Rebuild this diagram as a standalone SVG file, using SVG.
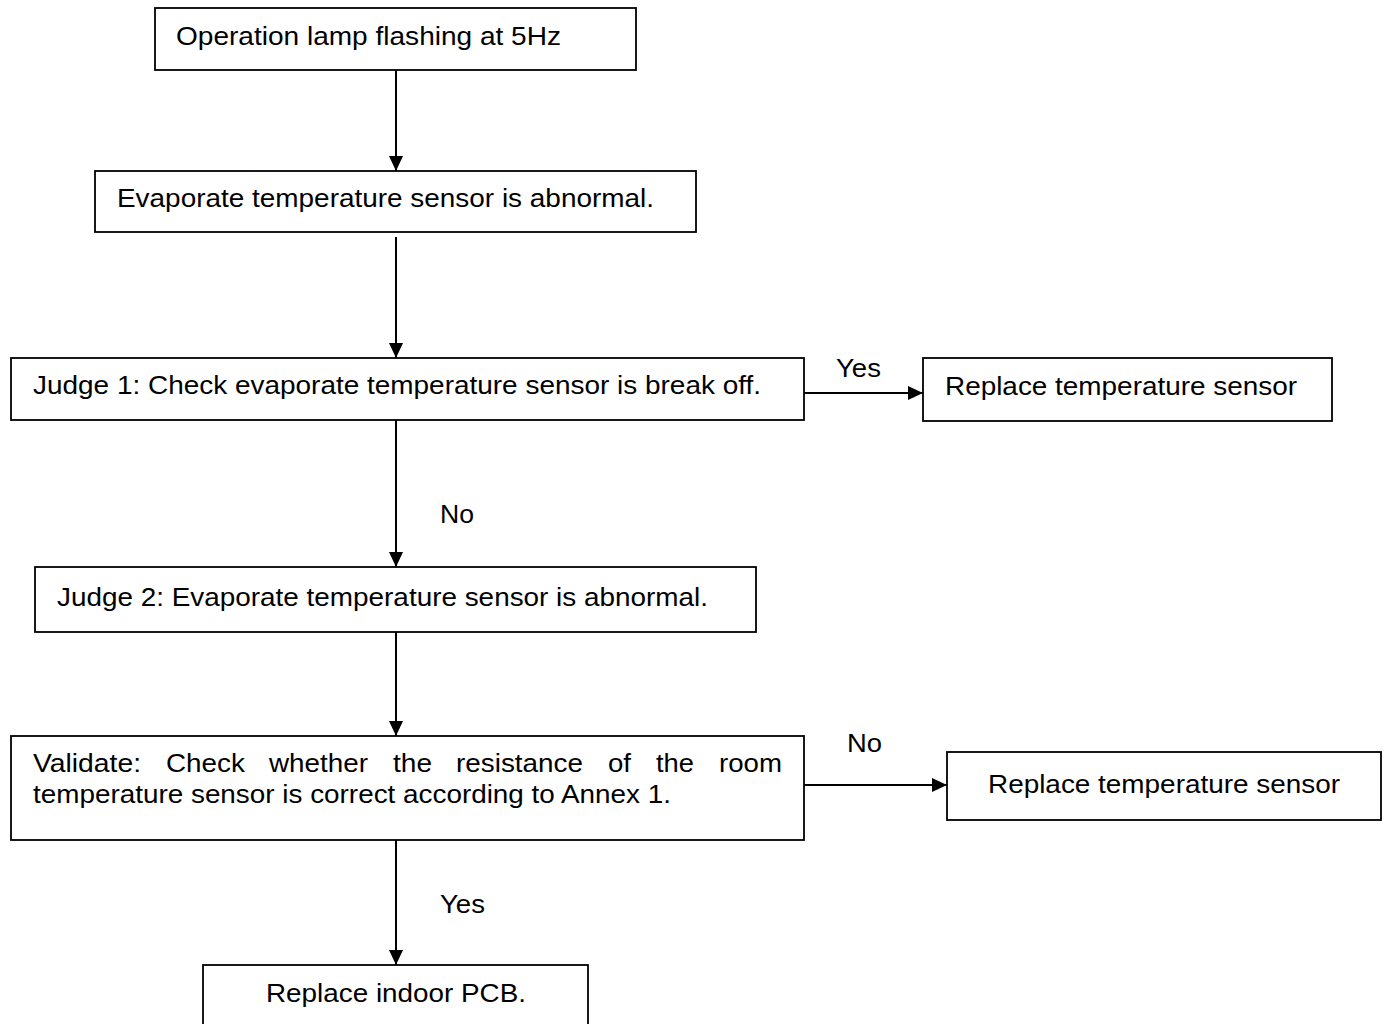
<svg xmlns="http://www.w3.org/2000/svg" width="1387" height="1024" viewBox="0 0 1387 1024">
<style>
  .box { fill: #ffffff; stroke: #000000; stroke-width: 1.8; }
  .t { font-family: "Liberation Sans", Arial, sans-serif; font-size: 25px; fill: #000000; }
  .edge { stroke: #000000; stroke-width: 2; fill: none; marker-end: url(#arrow); }
</style>
<defs>
  <marker id="arrow" markerUnits="userSpaceOnUse" markerWidth="15" markerHeight="14" refX="15" refY="7" orient="auto">
    <path d="M0,0 L15,7 L0,14 Z" fill="#000000"/>
  </marker>
</defs>
<rect width="1387" height="1024" fill="#ffffff"/>

<g id="connectors">
  <line class="edge" x1="396" y1="71" x2="396" y2="171"/>
  <line class="edge" x1="396" y1="237" x2="396" y2="358"/>
  <line class="edge" x1="396" y1="420" x2="396" y2="567"/>
  <line class="edge" x1="396" y1="632" x2="396" y2="736"/>
  <line class="edge" x1="396" y1="840" x2="396" y2="965"/>
  <line class="edge" x1="804" y1="393" x2="923" y2="393"/>
  <line class="edge" x1="804" y1="785" x2="947" y2="785"/>
  <text class="t" x="836" y="377" textLength="45" lengthAdjust="spacingAndGlyphs">Yes</text>
  <text class="t" x="440" y="523" textLength="34" lengthAdjust="spacingAndGlyphs">No</text>
  <text class="t" x="847" y="752" textLength="35" lengthAdjust="spacingAndGlyphs">No</text>
  <text class="t" x="440" y="913" textLength="45" lengthAdjust="spacingAndGlyphs">Yes</text>
</g>

<g id="n1">
  <rect class="box" x="155" y="8" width="481" height="62"/>
  <text class="t" x="176" y="45" textLength="385" lengthAdjust="spacingAndGlyphs">Operation lamp flashing at 5Hz</text>
</g>

<g id="n2">
  <rect class="box" x="95" y="171" width="601" height="61"/>
  <text class="t" x="117" y="207" textLength="537" lengthAdjust="spacingAndGlyphs">Evaporate temperature sensor is abnormal.</text>
</g>

<g id="n3">
  <rect class="box" x="11" y="358" width="793" height="62"/>
  <text class="t" x="33" y="394" textLength="728" lengthAdjust="spacingAndGlyphs">Judge 1: Check evaporate temperature sensor is break off.</text>
</g>

<g id="n4">
  <rect class="box" x="923" y="358" width="409" height="63"/>
  <text class="t" x="945" y="395" textLength="352" lengthAdjust="spacingAndGlyphs">Replace temperature sensor</text>
</g>

<g id="n5">
  <rect class="box" x="35" y="567" width="721" height="65"/>
  <text class="t" x="57" y="606" textLength="651" lengthAdjust="spacingAndGlyphs">Judge 2: Evaporate temperature sensor is abnormal.</text>
</g>

<g id="n6">
  <rect class="box" x="11" y="736" width="793" height="104"/>
  <text class="t" x="33" y="772" textLength="108" lengthAdjust="spacingAndGlyphs">Validate:</text>
  <text class="t" x="166" y="772" textLength="79" lengthAdjust="spacingAndGlyphs">Check</text>
  <text class="t" x="269" y="772" textLength="99" lengthAdjust="spacingAndGlyphs">whether</text>
  <text class="t" x="393" y="772" textLength="39" lengthAdjust="spacingAndGlyphs">the</text>
  <text class="t" x="456" y="772" textLength="127" lengthAdjust="spacingAndGlyphs">resistance</text>
  <text class="t" x="608" y="772" textLength="23" lengthAdjust="spacingAndGlyphs">of</text>
  <text class="t" x="656" y="772" textLength="38" lengthAdjust="spacingAndGlyphs">the</text>
  <text class="t" x="719" y="772" textLength="63" lengthAdjust="spacingAndGlyphs">room</text>
  <text class="t" x="33" y="803" textLength="638" lengthAdjust="spacingAndGlyphs">temperature sensor is correct according to Annex 1.</text>
</g>

<g id="n7">
  <rect class="box" x="947" y="752" width="434" height="68"/>
  <text class="t" x="988" y="793" textLength="352" lengthAdjust="spacingAndGlyphs">Replace temperature sensor</text>
</g>

<g id="n8">
  <rect class="box" x="203" y="965" width="385" height="70"/>
  <text class="t" x="266" y="1002" textLength="260" lengthAdjust="spacingAndGlyphs">Replace indoor PCB.</text>
</g>
</svg>
